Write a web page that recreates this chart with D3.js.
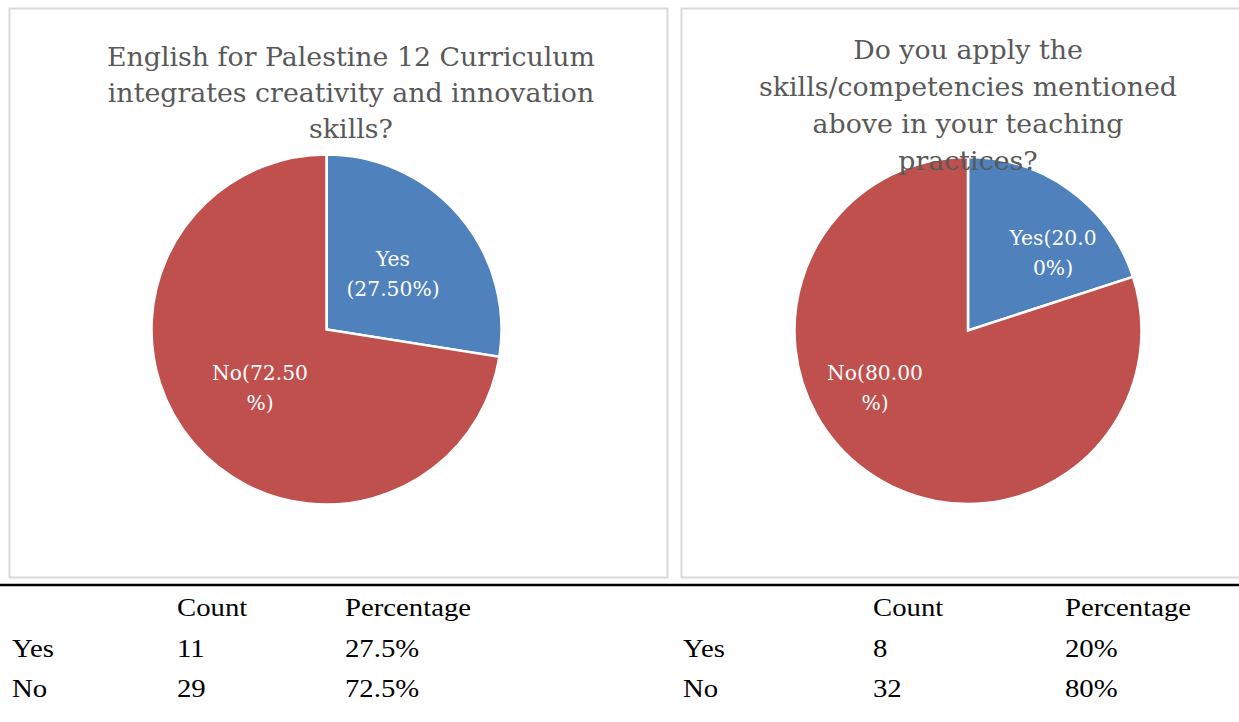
<!DOCTYPE html>
<html>
<head>
<meta charset="utf-8">
<script src="https://cdn.jsdelivr.net/npm/d3@7"></script>
<style>
  html, body { margin: 0; padding: 0; background: #fff; }
  svg { display: block; }
  .tbl { font-family: "Liberation Serif", "Times New Roman", serif; }
  .ttl, .lbl { font-family: "DejaVu Serif", serif; }
</style>
</head>
<body>
<svg id="chart" width="1239" height="722"></svg>
<script>
// ---------- DATA ----------
const categories = ["Yes", "No"];
const chart1Values = [27.5, 72.5];
const chart2Values = [20.0, 80.0];
const chart1Title = ["English for Palestine 12 Curriculum", "integrates creativity and innovation", "skills?"];
const chart2Title = ["Do you apply the", "skills/competencies mentioned", "above in your teaching", "practices?"];
const chart1Labels = [["Yes", "(27.50%)"], ["No(72.50", "%)"]];
const chart2Labels = [["Yes(20.0", "0%)"], ["No(80.00", "%)"]];
const tableHeader = ["", "Count", "Percentage"];
const table1Counts = [11, 29];
const table1Pcts = ["27.5%", "72.5%"];
const table2Counts = [8, 32];
const table2Pcts = ["20%", "80%"];

// ---------- LAYOUT ----------
const svg = d3.select("#chart");
const colors = d3.scaleOrdinal().domain(categories).range(["#4F81BD", "#C0504D"]);

const panels = [
  { x: 9.5, y: 8.5, w: 658, h: 569, cx: 326.5, cy: 329.5, r: 175, titleX: 351, titleY: 66, lineH: 36,
    title: chart1Title, values: chart1Values, labels: chart1Labels,
    labelPos: [[393, 266], [260, 380]] },
  { x: 681.5, y: 8.5, w: 600, h: 569, cx: 968, cy: 330.5, r: 173.5, titleX: 968, titleY: 59, lineH: 37,
    title: chart2Title, values: chart2Values, labels: chart2Labels,
    labelPos: [[1053, 245], [875, 380]] }
];

const pie = d3.pie().sort(null).value(d => d);

panels.forEach(p => {
  svg.append("rect")
    .attr("x", p.x).attr("y", p.y).attr("width", p.w).attr("height", p.h)
    .attr("fill", "#fff").attr("stroke", "#d9d9d9").attr("stroke-width", 2);

  const arc = d3.arc().innerRadius(0).outerRadius(p.r);
  const g = svg.append("g").attr("transform", `translate(${p.cx},${p.cy})`);
  g.selectAll("path")
    .data(pie(p.values))
    .join("path")
    .attr("d", arc)
    .attr("fill", (d, i) => colors(categories[i]))
    .attr("stroke", "#fff")
    .attr("stroke-width", 2.5)
    .attr("stroke-linejoin", "miter");

  // data labels
  p.labels.forEach((lines, i) => {
    const t = svg.append("text")
      .attr("class", "lbl")
      .attr("font-size", 20.3)
      .attr("fill", "#fff")
      .attr("text-anchor", "middle");
    lines.forEach((ln, j) => {
      t.append("tspan").attr("x", p.labelPos[i][0]).attr("y", p.labelPos[i][1] + j * 30).text(ln);
    });
  });
});

// titles (drawn after pies so they overlap on top)
panels.forEach(p => {
  const t = svg.append("text")
    .attr("class", "ttl")
    .attr("font-size", 26.8)
    .attr("fill", "#595959")
    .attr("text-anchor", "middle");
  p.title.forEach((ln, j) => {
    t.append("tspan").attr("x", p.titleX).attr("y", p.titleY + j * p.lineH).text(ln);
  });
});

// rule line
svg.append("line")
  .attr("x1", 0).attr("x2", 1239).attr("y1", 585).attr("y2", 585)
  .attr("stroke", "#000").attr("stroke-width", 2.5);

// tables
const tables = [
  { cols: [12, 177, 345], counts: table1Counts, pcts: table1Pcts },
  { cols: [683, 873, 1065], counts: table2Counts, pcts: table2Pcts }
];
const rowY = [616, 657, 697];
function cell(x, y, txt) {
  svg.append("text")
    .attr("class", "tbl")
    .attr("transform", `translate(${x},${y}) scale(1.15,1)`)
    .attr("font-size", 25)
    .attr("fill", "#000")
    .text(txt);
}
tables.forEach(tb => {
  tableHeader.forEach((h, c) => { if (h) cell(tb.cols[c], rowY[0], h); });
  categories.forEach((cat, r) => {
    cell(tb.cols[0], rowY[r + 1], cat);
    cell(tb.cols[1], rowY[r + 1], String(tb.counts[r]));
    cell(tb.cols[2], rowY[r + 1], tb.pcts[r]);
  });
});
</script>
</body>
</html>
